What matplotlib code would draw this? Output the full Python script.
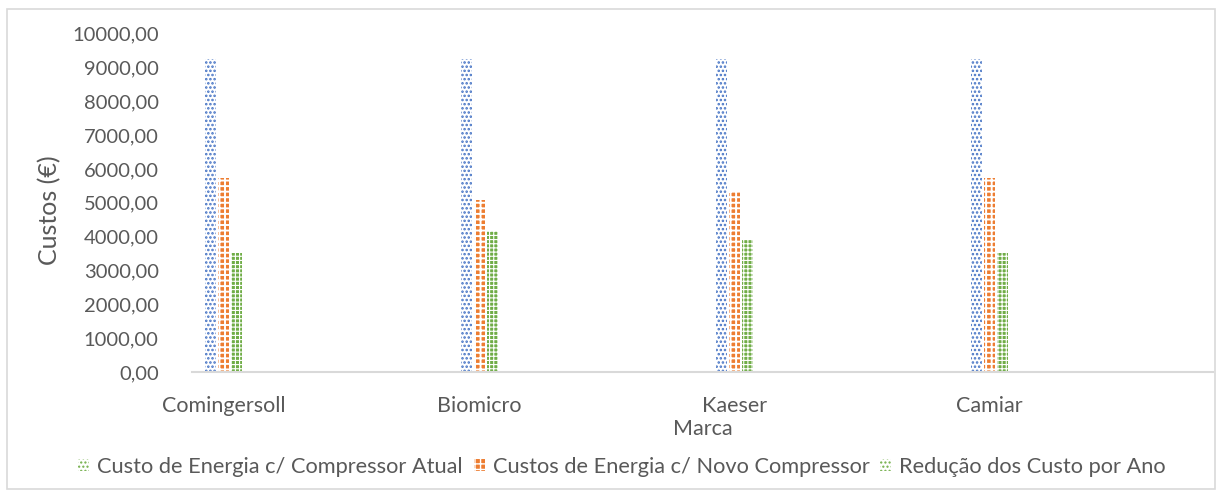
import numpy as np
import matplotlib
matplotlib.use("Agg")
import matplotlib.pyplot as plt
from matplotlib.patches import Patch, Rectangle

marcas = ["Comingersoll", "Biomicro", "Kaeser", "Camiar"]
custo_atual = [9250, 9250, 9250, 9250]
custo_novo = [5740, 5090, 5350, 5730]
reducao = [3510, 4160, 3900, 3520]
series_nomes = ["Custo de Energia c/ Compressor Atual",
                "Custos de Energia c/ Novo Compressor",
                "Redução dos Custo por Ano"]

cinza = "#595959"
azul, laranja, verde = "#4472C4", "#ED7D31", "#70AD47"
plt.rcParams["font.family"] = ["Lato", "DejaVu Sans"]

fig = plt.figure(figsize=(12.23, 4.97), dpi=100)
ax = fig.add_axes([192 / 1223, 1 - 372.3 / 497, (1213 - 192) / 1223, (372.3 - 33.3) / 497])

x = np.arange(len(marcas))
w = 0.043
passo = 0.051
with plt.rc_context({"hatch.linewidth": 1.2}):
    ax.bar(x - passo, custo_atual, w, facecolor="white", edgecolor=azul, hatch="....", linewidth=0)
with plt.rc_context({"hatch.linewidth": 1.4}):
    ax.bar(x, custo_novo, w, facecolor=laranja, edgecolor="white", hatch="+++", linewidth=0)
with plt.rc_context({"hatch.linewidth": 0.8}):
    ax.bar(x + passo, reducao, w, facecolor=verde, edgecolor="white", hatch="++++", linewidth=0)

ax.set_xlim(-0.125, 3.875)
ax.set_ylim(0, 10000)
ax.set_yticks(np.arange(0, 10001, 1000))
ax.set_yticklabels([f"{v},00" for v in range(0, 10001, 1000)])
ax.set_xticks(x)
ax.set_xticklabels(marcas)
ax.tick_params(axis="both", length=0, labelsize=14.5, colors=cinza)
ax.tick_params(axis="x", labelsize=15.5, pad=17)
ax.tick_params(axis="y", pad=24)
for s in ["top", "right", "left"]:
    ax.spines[s].set_visible(False)
ax.spines["bottom"].set_color("#D9D9D9")
ax.spines["bottom"].set_linewidth(1.5)

ax.set_xlabel("Marca", fontsize=15.5, color=cinza, labelpad=2)
fig.text(50 / 1223, 1 - 210 / 497, "Custos (€)", rotation=90, fontsize=18, color=cinza,
         ha="center", va="center")

with plt.rc_context({"hatch.linewidth": 1.0}):
    handles = [Patch(facecolor="white", edgecolor=verde, hatch="....", linewidth=0),
               Patch(facecolor=laranja, edgecolor="white", hatch="+++", linewidth=0),
               Patch(facecolor="white", edgecolor=verde, hatch="....", linewidth=0)]
fig.legend(handles, series_nomes, loc="center", bbox_to_anchor=(622 / 1223, 1 - 467 / 497),
           ncol=3, frameon=False, fontsize=15.7, labelcolor=cinza, handlelength=0.5,
           handleheight=0.5, handletextpad=0.37, columnspacing=0.5)

fig.patches.append(Rectangle((7 / 1223, 1 - 489 / 497), 1208 / 1223, 480 / 497,
                             transform=fig.transFigure, fill=False, edgecolor="#D9D9D9",
                             linewidth=1.2))

fig.savefig("out.png", dpi=100)
